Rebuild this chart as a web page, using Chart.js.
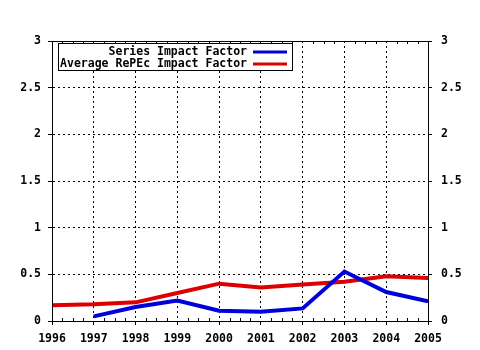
<!DOCTYPE html>
<html>
<head>
<meta charset="utf-8">
<script src="https://cdn.jsdelivr.net/npm/chart.js@4"></script>
<style>
  html, body { margin: 0; padding: 0; background: #fff; }
  #wrap { width: 480px; height: 350px; }
</style>
</head>
<body>
<div id="wrap"><canvas id="impactChart"></canvas></div>
<script>
const years = [1996, 1997, 1998, 1999, 2000, 2001, 2002, 2003, 2004, 2005]
const seriesImpact = [null, 0.05, 0.15, 0.22, 0.11, 0.10, 0.135, 0.53, 0.31, 0.21]
const repecImpact = [0.17, 0.18, 0.20, 0.30, 0.40, 0.36, 0.39, 0.42, 0.48, 0.46]
const seriesLabels = ['Series Impact Factor', 'Average RePEc Impact Factor']
const yTicks = [0, 0.5, 1, 1.5, 2, 2.5, 3]

const FONT = { family: 'DejaVu Sans Mono', size: 11.5, weight: 'bold' }

const frame = {
  id: 'frame',
  afterDraw(chart) {
    const ctx = chart.ctx
    const a = chart.chartArea
    const x = chart.scales.x
    ctx.save()
    ctx.setLineDash([])
    ctx.strokeStyle = '#000'
    ctx.lineWidth = 1
    ctx.strokeRect(Math.round(a.left) + 0.5, Math.round(a.top) + 0.5, Math.round(a.right - a.left), Math.round(a.bottom - a.top))

    // minor ticks inside top and bottom
    ctx.beginPath()
    for (let i = 0; i < years.length - 1; i++) {
      for (let k = 1; k < 4; k++) {
        const px = Math.round(x.getPixelForValue(years[i] + k / 4)) + 0.5
        ctx.moveTo(px, a.bottom)
        ctx.lineTo(px, a.bottom - 3)
        ctx.moveTo(px, a.top)
        ctx.lineTo(px, a.top + 3)
      }
    }
    ctx.stroke()

    // legend box
    const bx = a.left + 6, by = a.top + 2, bw = 234, bh = 27
    ctx.fillStyle = '#fff'
    ctx.fillRect(bx, by, bw, bh)
    ctx.strokeRect(bx + 0.5, by + 0.5, bw, bh)
    ctx.font = `${FONT.weight} ${FONT.size}px ${FONT.family}`
    ctx.textAlign = 'right'
    ctx.textBaseline = 'middle'
    chart.data.datasets.forEach((ds, i) => {
      const ty = by + 9 + i * 12
      ctx.fillStyle = '#000'
      ctx.fillText(ds.label, bx + 189, ty)
      ctx.strokeStyle = ds.borderColor
      ctx.lineWidth = 3
      ctx.beginPath()
      ctx.moveTo(bx + 195, ty)
      ctx.lineTo(bx + 229, ty)
      ctx.stroke()
    })
    ctx.restore()
  }
}

const gridOpts = {
  color: '#000',
  tickBorderDash: [],
  tickLength: 4,
  tickColor: '#000',
  lineWidth: 1
}
const borderOpts = { display: true, color: '#000', dash: [2, 3] }

new Chart(document.getElementById('impactChart'), {
  type: 'line',
  data: {
    labels: years,
    datasets: [
      {
        label: seriesLabels[0],
        data: years.map((yr, i) => ({ x: yr, y: seriesImpact[i] })),
        borderColor: 'rgb(0,0,220)',
        borderWidth: 4,
        pointRadius: 0,
        tension: 0,
        spanGaps: false
      },
      {
        label: seriesLabels[1],
        data: years.map((yr, i) => ({ x: yr, y: repecImpact[i] })),
        borderColor: 'rgb(220,0,0)',
        borderWidth: 4,
        pointRadius: 0,
        tension: 0
      }
    ]
  },
  plugins: [frame],
  options: {
    responsive: true,
    maintainAspectRatio: false,
    animation: false,
    layout: { padding: { top: 41, left: 0, right: 0, bottom: 0 } },
    plugins: {
      legend: { display: false },
      tooltip: { enabled: false }
    },
    scales: {
      x: {
        type: 'linear',
        min: years[0],
        max: years[years.length - 1],
        grid: gridOpts,
        border: borderOpts,
        afterBuildTicks: s => { s.ticks = years.map(v => ({ value: v })) },
        ticks: {
          color: '#000',
          font: FONT,
          padding: 7,
          maxRotation: 0,
          autoSkip: false,
          callback: v => String(v)
        },
        afterFit: s => { s.height = 29 }
      },
      y: {
        position: 'left',
        min: 0,
        max: 3,
        grid: gridOpts,
        border: borderOpts,
        afterBuildTicks: s => { s.ticks = yTicks.map(v => ({ value: v })) },
        ticks: { color: '#000', font: FONT, padding: 7, callback: v => String(v) },
        afterFit: s => { s.width = 52 }
      },
      y2: {
        position: 'right',
        min: 0,
        max: 3,
        grid: { drawOnChartArea: false, tickLength: 4, tickColor: '#000' },
        border: { display: true, color: '#000' },
        afterBuildTicks: s => { s.ticks = yTicks.map(v => ({ value: v })) },
        ticks: { color: '#000', font: FONT, padding: 9, callback: v => String(v) },
        afterFit: s => { s.width = 52 }
      }
    }
  }
})
</script>
</body>
</html>
